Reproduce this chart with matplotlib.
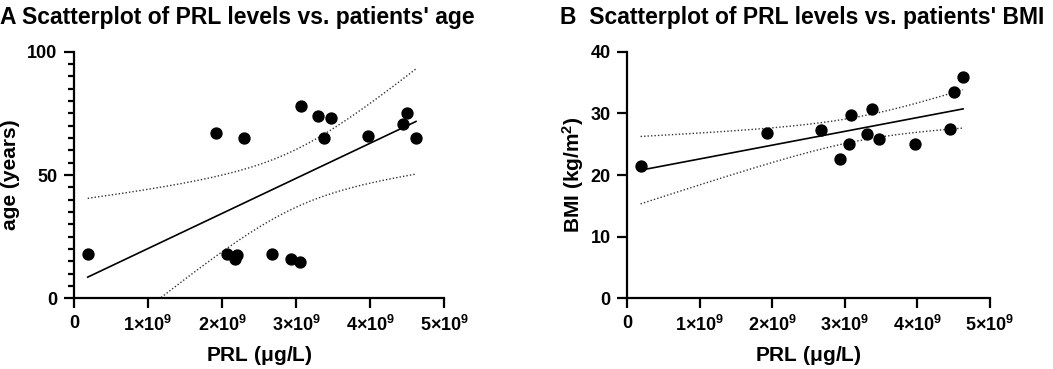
import numpy as np
import matplotlib
matplotlib.use("Agg")
import matplotlib.pyplot as plt
from matplotlib.ticker import MultipleLocator, FixedLocator

plt.rcParams['font.family'] = ['Liberation Sans', 'DejaVu Sans']
plt.rcParams['font.weight'] = 'bold'
plt.rcParams['mathtext.fontset'] = 'custom'
plt.rcParams['mathtext.rm'] = 'Liberation Sans:bold'
plt.rcParams['mathtext.bf'] = 'Liberation Sans:bold'
plt.rcParams['mathtext.it'] = 'Liberation Sans:bold'
plt.rcParams['mathtext.default'] = 'bf'

# ---- data (PRL in units of 1e9 µg/L) ----
prl_age = [0.185, 1.917, 2.30, 2.06, 2.20, 2.18, 2.67, 2.925, 3.056, 3.07, 3.30, 3.47,
           3.375, 3.965, 4.446, 4.50, 4.617]
age = [18.0, 66.9, 64.9, 18.0, 17.5, 16.0, 18.0, 15.8, 14.9, 78.1, 74.1, 73.0,
       65.0, 65.9, 70.9, 75.0, 65.0]

prl_bmi = [0.184, 1.92, 2.67, 2.93, 3.06, 3.08, 3.30, 3.38, 3.47, 3.97, 4.45, 4.51, 4.63]
bmi = [21.5, 26.8, 27.3, 22.6, 25.0, 29.7, 26.6, 30.8, 25.8, 25.0, 27.5, 33.4, 35.9]

x_ticks = [0, 1, 2, 3, 4, 5]
x_ticklabels = ['0', r'$1{\times}10^{9}$', r'$2{\times}10^{9}$', r'$3{\times}10^{9}$',
                r'$4{\times}10^{9}$', r'$5{\times}10^{9}$']

T_CRIT = {17: 2.131, 13: 2.201}  # 95% two-sided t critical values (df = n-2)

fig = plt.figure(figsize=(10.53, 3.69), dpi=100)

def panel(rect, xs, ys, ylim, ymajor, yminor, ylabel, ylab_x, title, title_x):
    ax = fig.add_axes(rect)
    xs = np.asarray(xs); ys = np.asarray(ys)
    n = len(xs)
    b, a = np.polyfit(xs, ys, 1)
    xx = np.linspace(xs.min(), xs.max(), 200)
    yy = a + b * xx
    resid = ys - (a + b * xs)
    s = np.sqrt(np.sum(resid ** 2) / (n - 2))
    se = s * np.sqrt(1 / n + (xx - xs.mean()) ** 2 / np.sum((xs - xs.mean()) ** 2))
    t = T_CRIT[n]
    ax.plot(xx, yy, color='black', lw=1.2, zorder=2)
    ax.plot(xx, yy + t * se, color='#333333', lw=1.0, ls=(0, (1, 1.5)), zorder=2)
    ax.plot(xx, yy - t * se, color='#333333', lw=1.0, ls=(0, (1, 1.5)), zorder=2)
    ax.scatter(xs, ys, s=62, color='black', zorder=3, clip_on=False)
    ax.set_xlim(0, 5)
    ax.set_ylim(*ylim)
    ax.xaxis.set_major_locator(FixedLocator(x_ticks))
    ax.set_xticklabels(x_ticklabels)
    ax.yaxis.set_major_locator(MultipleLocator(ymajor))
    if yminor:
        ax.yaxis.set_minor_locator(MultipleLocator(yminor))
    for sp in ['top', 'right']:
        ax.spines[sp].set_visible(False)
    for sp in ['left', 'bottom']:
        ax.spines[sp].set_linewidth(1.6)
    ax.tick_params(axis='both', which='major', length=7, width=1.6, labelsize=13, pad=5)
    ax.tick_params(axis='y', which='minor', length=4, width=1.6)
    for lbl in ax.get_xticklabels() + ax.get_yticklabels():
        lbl.set_fontweight('bold')
    ax.set_xlabel(r'PRL ($\mu$g/L)', fontsize=15, fontweight='bold')
    ax.set_ylabel(ylabel, fontsize=15, fontweight='bold')
    ax.xaxis.set_label_coords(0.5, -0.185)
    ax.yaxis.set_label_coords(ylab_x, 0.5)
    fig.text(title_x, 0.985, title, fontsize=16.5, fontweight='bold', va='top', ha='left')
    return ax

panel([0.0703, 0.1916, 0.3517, 0.668], prl_age, age, (0, 100), 50, 5,
      'age (years)', -0.145, "A Scatterplot of PRL levels vs. patients' age", 0.0)
panel([0.5957, 0.1916, 0.3444, 0.668], prl_bmi, bmi, (0, 40), 10, None,
      r'BMI (kg/m$^{2}$)', -0.115, "B  Scatterplot of PRL levels vs. patients' BMI", 0.532)

fig.savefig('out.png', dpi=100)
